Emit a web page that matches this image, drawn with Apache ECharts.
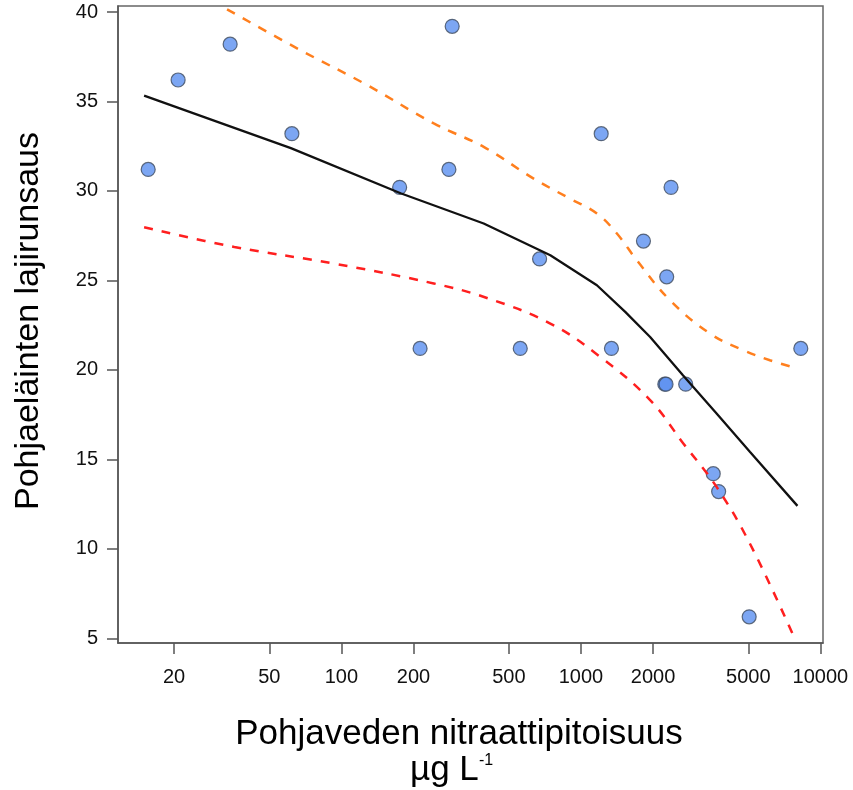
<!DOCTYPE html>
<html>
<head>
<meta charset="utf-8">
<script src="https://cdn.jsdelivr.net/npm/echarts@6/dist/echarts.min.js"></script>
<style>
  html, body { margin: 0; padding: 0; background: #fff; }
  #chart { width: 853px; height: 790px; }
</style>
</head>
<body>
<div id="chart"></div>
<script>
// havainnot: nitraatti (µg/L) ja lajirunsaus
var nitrate  = [15.6, 20.8, 34.3, 62.1, 175, 213, 281, 290, 558, 672, 1215, 1341, 1824, 2240, 2266, 2281, 2378, 2738, 3568, 3758, 5040, 8279];
var richness = [31.2, 36.2, 38.2, 33.2, 30.2, 21.2, 31.2, 39.2, 21.2, 26.2, 33.2, 21.2, 27.2, 19.2, 19.2, 25.2, 30.2, 19.2, 14.2, 13.2, 6.2, 21.2];

// sovitettu käyrä
var fitX = [15, 61.5, 176.6, 392.6, 745, 1166, 1531, 1945, 2666, 3685, 5073, 8017];
var fitY = [35.33, 32.39, 29.87, 28.18, 26.41, 24.73, 23.24, 21.84, 19.7, 17.56, 15.42, 12.4];

// luottamusvälin ylä- ja alaraja
var upperX = [33.3, 67.6, 128.3, 243, 392.6, 634.6, 874, 1166, 1413, 1711, 2355, 3459, 4760, 6150, 8017];
var upperY = [40.15, 37.86, 35.91, 33.77, 32.46, 30.69, 29.66, 28.74, 27.62, 26.13, 23.89, 22.03, 21.1, 20.54, 20.08];
var lowerX = [15, 35.7, 93.1, 243, 405, 745, 1203, 1945, 2676, 3685, 5073, 7690];
var lowerY = [27.97, 26.87, 25.94, 24.83, 24.02, 22.59, 20.73, 18.31, 15.89, 13.46, 10.3, 5.18];

var xTicks = [20, 50, 100, 200, 500, 1000, 2000, 5000, 10000];
var yTicks = [5, 10, 15, 20, 25, 30, 35, 40];

function pairs(xs, ys) {
  return xs.map(function (x, i) { return [x, ys[i]]; });
}

var font = "'Liberation Sans', Arial, sans-serif";
var chart = echarts.init(document.getElementById('chart'));
var option = {
  animation: false,
  backgroundColor: '#fff',
  grid: {
    left: 118,
    right: 30,
    top: 6,
    bottom: 147,
    show: true,
    borderColor: '#666',
    borderWidth: 1.5
  },
  xAxis: {
    type: 'log',
    min: 11.67,
    max: 10250,
    splitLine: { show: false },
    axisLine: { lineStyle: { color: '#555', width: 1.5 } },
    axisTick: {
      length: 11,
      customValues: xTicks,
      lineStyle: { color: '#555', width: 1.5 }
    },
    minorTick: { show: false },
    axisLabel: {
      customValues: xTicks,
      margin: 24,
      color: '#111',
      fontSize: 20,
      fontFamily: font,
      formatter: function (v) { return String(Math.round(v)); }
    }
  },
  yAxis: {
    type: 'value',
    min: 4.737,
    max: 40.335,
    splitLine: { show: false },
    axisLine: { show: true, lineStyle: { color: '#555', width: 1.5 } },
    axisTick: {
      show: true,
      length: 11,
      customValues: yTicks,
      lineStyle: { color: '#555', width: 1.5 }
    },
    axisLabel: {
      customValues: yTicks,
      margin: 20,
      color: '#111',
      fontSize: 20,
      fontFamily: font
    }
  },
  graphic: [
    {
      type: 'text',
      x: 459, y: 734.5,
      style: {
        text: 'Pohjaveden nitraattipitoisuus',
        font: '35px ' + font,
        fill: '#000',
        align: 'center',
        verticalAlign: 'middle'
      }
    },
    {
      type: 'text',
      x: 410, y: 770,
      style: {
        text: 'µg L',
        font: '35px ' + font,
        fill: '#000',
        align: 'left',
        verticalAlign: 'middle'
      }
    },
    {
      type: 'text',
      x: 479, y: 761,
      style: {
        text: '-1',
        font: '16px ' + font,
        fill: '#000',
        align: 'left',
        verticalAlign: 'middle'
      }
    },
    {
      type: 'text',
      x: 29, y: 321,
      rotation: Math.PI / 2,
      style: {
        text: 'Pohjaeläinten lajirunsaus',
        font: '34px ' + font,
        fill: '#000',
        align: 'center',
        verticalAlign: 'middle'
      }
    }
  ],
  series: [
    {
      type: 'scatter',
      data: pairs(nitrate, richness),
      symbolSize: 14,
      itemStyle: {
        color: '#5b90f0',
        borderColor: '#3f4b5e',
        borderWidth: 1.2
      },
      z: 2
    },
    {
      type: 'line',
      data: pairs(fitX, fitY),
      showSymbol: false,
      lineStyle: { color: '#111', width: 2.3 },
      z: 3
    },
    {
      type: 'line',
      data: pairs(upperX, upperY),
      showSymbol: false,
      smooth: 0.4,
      lineStyle: { color: '#ff7f1e', width: 2.5, type: [9, 9] },
      z: 3
    },
    {
      type: 'line',
      data: pairs(lowerX, lowerY),
      showSymbol: false,
      smooth: 0.4,
      lineStyle: { color: '#ff1f1f', width: 2.5, type: [9, 9] },
      z: 3
    }
  ]
};
chart.setOption(option);
</script>
</body>
</html>
